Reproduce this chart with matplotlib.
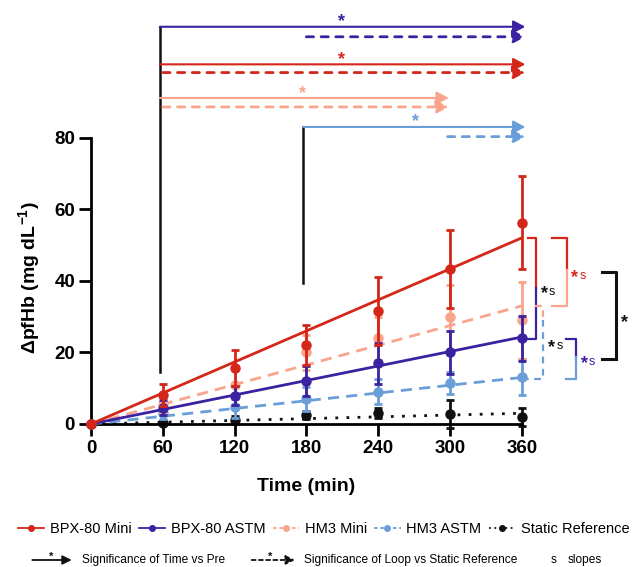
import numpy as np
import matplotlib.pyplot as plt
from matplotlib.lines import Line2D

plt.rcParams['font.family'] = ['Liberation Sans', 'DejaVu Sans']
plt.rcParams['mathtext.fontset'] = 'custom'
plt.rcParams['mathtext.rm'] = 'Liberation Sans'
plt.rcParams['mathtext.bf'] = 'Liberation Sans:bold'

# sampling times (min)
time = [0, 60, 120, 180, 240, 300, 360]

# mean and SD of delta pfHb (mg/dL)
bpx_mini = [0, 8.1, 15.6, 22.1, 31.6, 43.3, 56.3]
bpx_mini_sd = [0, 3.0, 5.1, 5.7, 9.5, 11.0, 13.0]
bpx_astm = [0, 4.6, 7.9, 12.0, 17.0, 20.1, 23.9]
bpx_astm_sd = [0, 2.0, 2.7, 4.3, 5.7, 6.0, 6.2]
hm3_mini = [0, 5.5, 11.0, 20.0, 23.9, 29.8, 29.0]
hm3_mini_sd = [0, 2.5, 4.0, 5.0, 6.0, 9.0, 10.7]
hm3_astm = [0, 3.0, 4.8, 7.0, 9.0, 11.5, 13.2]
hm3_astm_sd = [0, 1.5, 3.0, 3.3, 3.5, 3.0, 5.0]
static_ref = [0, 0.2, 1.1, 2.5, 3.0, 2.8, 1.9]
static_ref_sd = [0, 0.5, 1.0, 1.0, 1.4, 4.0, 2.5]

# linear fits through origin, value at 0 and 360 min
fit_x = [0, 360]
fit_bpx_mini = [0, 52.0]
fit_bpx_astm = [0, 24.3]
fit_hm3_mini = [0, 33.0]
fit_hm3_astm = [0, 13.0]
fit_static = [0, 3.0]

names = ['BPX-80 Mini', 'BPX-80 ASTM', 'HM3 Mini', 'HM3 ASTM', 'Static Reference']

RED = '#D42619'
PURPLE = '#3A22A0'
SALMON = '#F9A48B'
LBLUE = '#6A9ED9'
BLACK = '#111111'

DASH = (0, (4, 2.6))
DOT = (0, (1, 3))

fig = plt.figure(figsize=(6.37, 5.67), dpi=100)
ax = fig.add_axes([91 / 637, 1 - 424 / 567, 430.7 / 637, 286.3 / 567])
ax.set_xlim(0, 360)
ax.set_ylim(0, 80)

series = [
    (static_ref, static_ref_sd, fit_static, BLACK, DOT, 2),
    (hm3_astm, hm3_astm_sd, fit_hm3_astm, LBLUE, DASH, 3),
    (hm3_mini, hm3_mini_sd, fit_hm3_mini, SALMON, DASH, 4),
    (bpx_astm, bpx_astm_sd, fit_bpx_astm, PURPLE, '-', 5),
    (bpx_mini, bpx_mini_sd, fit_bpx_mini, RED, '-', 6),
]
for mean, sd, fit, c, ls, z in series:
    ax.plot(fit_x, fit, color=c, ls=ls, lw=2, zorder=z, clip_on=False)
    eb = ax.errorbar(time, mean, yerr=sd, fmt='o', color=c, ms=6.5,
                     capsize=3.2, capthick=2, elinewidth=2, zorder=z)
    for a in eb.get_children():
        a.set_clip_on(False)

for s in ['top', 'right']:
    ax.spines[s].set_visible(False)
for s in ['left', 'bottom']:
    ax.spines[s].set_linewidth(2)
ax.set_xticks(time)
ax.set_yticks([0, 20, 40, 60, 80])
ax.tick_params(direction='out', length=8.5, width=2, labelsize=13.5, pad=3)
for lbl in ax.get_xticklabels() + ax.get_yticklabels():
    lbl.set_fontweight('bold')

ax.set_xlabel('Time (min)', fontsize=14, fontweight='bold', va='center')
ax.xaxis.set_label_coords(0.5, -0.217)
ax.set_ylabel(r'ΔpfHb (mg dL$^{\mathbf{-1}}$)', fontsize=14, fontweight='bold', va='center')
ax.yaxis.set_label_coords(-0.142, 0.51)


def arrow(x0, x1, y, color, dashed, lw):
    ls = (0, (2.6, 2.7)) if dashed else '-'
    ax.annotate('', xy=(x1, y), xytext=(x0, y),
                arrowprops=dict(arrowstyle='-|>,head_length=0.6,head_width=0.32',
                                color=color, lw=lw, linestyle=ls,
                                mutation_scale=12, shrinkA=0, shrinkB=0),
                annotation_clip=False)


def star(x, y, color, size=13, coords='data'):
    ax.annotate('*', xy=(x, y), xycoords=coords, xytext=(0, -0.32 * size),
                textcoords='offset points', ha='center', va='center',
                color=color, fontsize=size, fontweight='bold', annotation_clip=False)


def star_s(x, y, color):
    star(x, y, color, 13)
    ax.annotate('s', xy=(x, y), xytext=(5.5, -3), textcoords='offset points',
                ha='center', va='center', color=color, fontsize=9,
                annotation_clip=False)


def bracket(xl_top, xl_bot, x, ytop, ybot, ysplit, ctop, cbot, ls='-', lw=1.6):
    kw = dict(lw=lw, ls=ls, clip_on=False, solid_capstyle='projecting')
    ax.plot([xl_top, x, x], [ytop, ytop, ysplit], color=ctop, **kw)
    ax.plot([x, x, xl_bot], [ysplit, ybot, ybot], color=cbot, **kw)


# significance arrows above the plot
ax.plot([57.5, 57.5], [14.6, 111], color=BLACK, lw=1.8, clip_on=False)
ax.plot([177.5, 177.5], [39.3, 83], color=BLACK, lw=1.8, clip_on=False)
arrow(57.5, 363, 111, PURPLE, False, 1.5)
arrow(180, 363, 108.2, PURPLE, True, 2)
star(209, 114, PURPLE)
arrow(57.5, 363, 100.5, RED, False, 1.5)
arrow(60, 363, 98.2, RED, True, 2)
star(209, 103.4, RED)
arrow(57.5, 299, 91.1, SALMON, False, 1.5)
arrow(60, 299, 88.6, SALMON, True, 2)
star(177, 94, SALMON)
arrow(177.5, 363, 83, LBLUE, False, 1.5)
arrow(298, 363, 80.3, LBLUE, True, 2)
star(271, 86.1, LBLUE)

# slope comparison brackets on the right
bracket(365.5, 365.5, 371.7, 51.9, 23.7, 37.9, RED, PURPLE)
bracket(371, 364.5, 378, 33, 12.6, 29, SALMON, LBLUE, ls=(0, (3, 2.5)))
bracket(385.6, 385.6, 397.6, 51.9, 33, 43, RED, SALMON)
bracket(396.8, 396.8, 405.4, 23.7, 12.6, 18.8, PURPLE, LBLUE)
bracket(427.4, 427.4, 438.6, 42.5, 18.1, 18.1, BLACK, BLACK, lw=2.2)
star_s(379.1, 38.0, BLACK)
star_s(385.1, 23.0, BLACK)
star_s(404.5, 42.5, RED)
star_s(412.1, 18.5, PURPLE)
star(445.8, 30.0, BLACK)

# legend row 1
handles = [
    Line2D([], [], color=RED, lw=1.3, marker='o', ms=4),
    Line2D([], [], color=PURPLE, lw=1.3, marker='o', ms=4),
    Line2D([], [], color=SALMON, lw=1.3, ls=(0, (2, 1.5)), marker='o', ms=4),
    Line2D([], [], color=LBLUE, lw=1.3, ls=(0, (2, 1.5)), marker='o', ms=4),
    Line2D([], [], color=BLACK, lw=1.3, ls=(0, (1, 2)), marker='o', ms=4),
]
fig.legend(handles, names, loc='center', bbox_to_anchor=(0.508, 1 - 529 / 567),
           ncol=5, frameon=False, fontsize=10.5, handlelength=1.8,
           handletextpad=0.39, columnspacing=0.5, borderpad=0, borderaxespad=0)


# legend row 2 (figure pixel positions)
def fpx(x, y):
    return (x / 637, 1 - y / 567)


def leg_arrow(x0, x1, y, dashed):
    ls = (0, (2.2, 1.8)) if dashed else '-'
    ax.annotate('', xy=fpx(x1, y), xytext=fpx(x0, y), xycoords='figure fraction',
                textcoords='figure fraction',
                arrowprops=dict(arrowstyle='-|>,head_length=0.6,head_width=0.3',
                                color=BLACK, lw=1.3, linestyle=ls,
                                mutation_scale=9, shrinkA=0, shrinkB=0),
                annotation_clip=False)


leg_arrow(32.3, 71.7, 560, False)
star(*fpx(50.7, 553), BLACK, size=8, coords='figure fraction')
fig.text(*fpx(81.7, 560), 'Significance of Time vs Pre', fontsize=8.6, va='center')
leg_arrow(251.7, 295, 560, True)
star(*fpx(270, 553), BLACK, size=8, coords='figure fraction')
fig.text(*fpx(304, 560), 'Significance of Loop vs Static Reference', fontsize=8.6, va='center')
fig.text(*fpx(554, 560), 's', fontsize=8.6, va='center', ha='center')
fig.text(*fpx(568, 560), 'slopes', fontsize=8.6, va='center')

fig.savefig('out.png', dpi=100)
